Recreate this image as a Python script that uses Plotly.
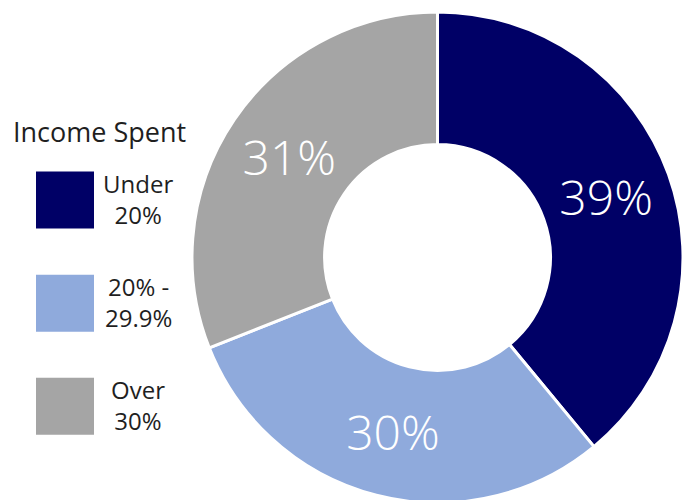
import plotly.graph_objects as go

# Share of income spent
labels = ["Under<br>20%", "20% -<br>29.9%", "Over<br>30%"]
values = [39, 30, 31]
colors = ["#000066", "#8FAADC", "#A5A5A5"]
legend_title = "Income Spent"

FONT = "Open Sans"
W, H = 693, 500
OFF = 8  # page body margin shifts the figure by this much

fig = go.Figure()

cx, r = 437.5 - OFF, 245.5
fig.add_trace(go.Pie(
    labels=labels,
    values=values,
    hole=0.46,
    sort=False,
    direction="clockwise",
    rotation=0,
    marker=dict(colors=colors, line=dict(color="white", width=3)),
    texttemplate="%{value}%",
    textposition="inside",
    insidetextorientation="horizontal",
    textfont=dict(family=FONT, size=48, color="white", weight=300),
    domain=dict(x=[(cx - r) / W, (cx + r) / W], y=[0, 1]),
    showlegend=False,
    hoverinfo="label+percent",
))

# hand-drawn legend with big swatches
fig.add_annotation(
    x=(11 - OFF) / W, y=1 - (130 - OFF) / H, xref="paper", yref="paper",
    xanchor="left", yanchor="middle", showarrow=False,
    text=legend_title,
    font=dict(family=FONT, size=27, color="#1f1f1f"),
)

for i, (lab, col) in enumerate(zip(labels, colors)):
    cy = 199.5 + i * 105 - OFF
    fig.add_shape(
        type="rect", xref="paper", yref="paper",
        x0=(36 - OFF) / W, x1=(94 - OFF) / W,
        y0=1 - (cy - 29) / H, y1=1 - (cy + 29) / H,
        fillcolor=col, line=dict(width=0),
    )
    fig.add_annotation(
        x=(138 - OFF) / W, y=1 - (cy - 1.5) / H, xref="paper", yref="paper",
        xanchor="center", yanchor="middle", align="center",
        showarrow=False, text=lab,
        font=dict(family=FONT, size=24, color="#1f1f1f"),
    )

fig.update_layout(
    width=W,
    height=H,
    margin=dict(l=0, r=0, t=4, b=5),
    paper_bgcolor="white",
    plot_bgcolor="white",
)

fig.write_html("out.html")
